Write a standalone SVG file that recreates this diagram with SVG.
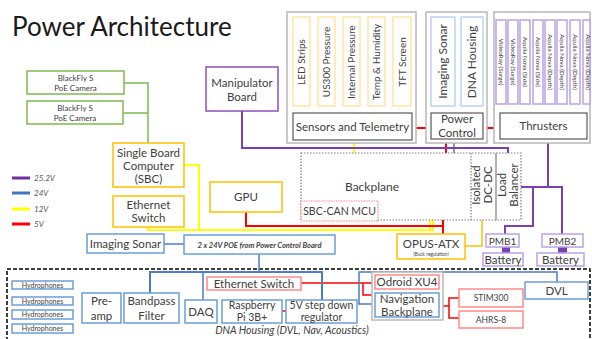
<svg xmlns="http://www.w3.org/2000/svg" width="592" height="339" viewBox="0 0 592 339">
  <style>
    .t { font-family: Lato, "Open Sans", "Liberation Sans", sans-serif; fill: #404040; text-anchor: middle; font-size: 11.5px; }
    .s8 { font-size: 8px; }
    .s7 { font-size: 7px; }
    .s10 { font-size: 10px; }
    .s11 { font-size: 10.5px; }
    .it { font-style: italic; }
    rect { fill: #ffffff; }
    .or { stroke: #ffc000; stroke-width: 1.5; }
    .gn { stroke: #7dbb4c; stroke-width: 1.5; }
    .pu { stroke: #8a52c0; stroke-width: 1.5; }
    .lp { stroke: #b9a3e3; stroke-width: 1.5; }
    .bl { stroke: #6b9fd8; stroke-width: 1.5; }
    .lb { stroke: #a9cbed; stroke-width: 1.2; }
    .lr { stroke: #ff8a8a; stroke-width: 1.5; }
    .dk { stroke: #595959; stroke-width: 1.2; }
    .lg { stroke: #b8b8b8; stroke-width: 1.5; }
    .ly { stroke: #ffe08a; stroke-width: 1.2; }
    .conn polyline, .conn line { fill: none; }
    .c12 { stroke: #ffff00; stroke-width: 2; }
    .c5 { stroke: #ff0000; stroke-width: 2; }
    .c24 { stroke: #4a7cc9; stroke-width: 1.5; }
    .c25 { stroke: #7a3fb0; stroke-width: 2; }
    .cg { stroke: #7dbb4c; stroke-width: 1.5; }
    .co { stroke: #ffc000; stroke-width: 1.5; }
  </style>

  <!-- title -->
  <text x="12" y="36" font-family="Lato, 'Open Sans', sans-serif" font-size="26" fill="#1a1a1a">Power Architecture</text>

  <!-- legend -->
  <g id="legend">
    <line x1="12" y1="178" x2="30" y2="178" stroke="#7030a0" stroke-width="3"/>
    <line x1="12" y1="193" x2="30" y2="193" stroke="#4472c4" stroke-width="3"/>
    <line x1="12" y1="209" x2="30" y2="209" stroke="#ffff00" stroke-width="3"/>
    <line x1="12" y1="224" x2="30" y2="224" stroke="#ff0000" stroke-width="3"/>
    <text class="t s8 it" x="34" y="181" style="text-anchor:start;fill:#595959">25.2V</text>
    <text class="t s8 it" x="34" y="196" style="text-anchor:start;fill:#595959">24V</text>
    <text class="t s8 it" x="34" y="212" style="text-anchor:start;fill:#595959">12V</text>
    <text class="t s8 it" x="34" y="227" style="text-anchor:start;fill:#595959">5V</text>
  </g>

  <!-- DNA housing enclosure -->
  <g id="dna-housing">
    <rect x="7" y="269" width="583" height="80" style="fill:none" stroke="#000" stroke-width="1.5" stroke-dasharray="4,2"/>
    <text class="t it" x="292" y="334" style="font-size:10.5px">DNA Housing (DVL, Nav, Acoustics)</text>
  </g>

  <!-- connectors -->
  <g id="connectors" class="conn">
    <!-- cameras to SBC -->
    <polyline class="cg" points="124,83 148,83 148,143"/>
    <line class="cg" x1="123" y1="113" x2="148" y2="113"/>
    <!-- 12V -->
    <polyline class="c12" points="184,165 199,165 199,230"/>
    <polyline class="c12" points="148,227 148,230 433,230 433,220"/>
    <line class="c12" x1="430" y1="220" x2="430" y2="230"/>
    <line class="c12" x1="302" y1="106" x2="302" y2="113"/>
    <line class="c12" x1="327" y1="106" x2="327" y2="113"/>
    <line class="c12" x1="354" y1="143" x2="354" y2="153"/>
    <!-- 5V -->
    <polyline class="c5" points="246,212 246,226 443,226"/>
    <line class="c5" x1="443" y1="220" x2="443" y2="234"/>
    <line class="c5" x1="352" y1="106" x2="352" y2="113"/>
    <line class="c5" x1="377" y1="106" x2="377" y2="113"/>
    <line class="c5" x1="403" y1="106" x2="403" y2="113"/>
    <line class="c5" x1="416" y1="128" x2="426" y2="128"/>
    <line class="c5" x1="487" y1="128" x2="494" y2="128"/>
    <line class="c5" x1="446" y1="143" x2="446" y2="153"/>
    <line class="c5" x1="301" y1="283" x2="375" y2="283" style="stroke-width:1.5"/>
    <polyline class="c5" points="363,283 363,295 375,295" style="stroke-width:1.5"/>
    <line class="c5" x1="282" y1="311" x2="286" y2="311" style="stroke-width:1.5"/>
    <line class="c5" x1="439" y1="306" x2="449" y2="306" style="stroke-width:1.5"/>
    <polyline class="c5" points="459,298 449,298 449,318 459,318" style="stroke-width:1.5"/>
    <!-- OPUS output -->
    <polyline class="co" points="465,246 482,246 482,220"/>
    <!-- 24V -->
    <line class="c24" x1="454" y1="143" x2="454" y2="153"/>
    <line class="c24" x1="164" y1="244" x2="184" y2="244"/>
    <line class="c24" x1="259" y1="254" x2="259" y2="272"/>
    <polyline class="c24" points="150,293 150,272 322,272 322,300" style="stroke-width:2"/>
    <line class="c24" x1="203" y1="272" x2="203" y2="300"/>
    <polyline class="c24" points="372,304 359,304 359,272 557,272 557,282"/>
    <!-- 25.2V -->
    <polyline class="c25" points="242,111 242,148 508,148 508,153"/>
    <line class="c25" x1="548" y1="143" x2="548" y2="187"/>
    <polyline class="c25" points="521,187 562,187 562,234"/>
    <polyline class="c25" points="533,187 533,226 505,226 505,234"/>
    <rect x="502" y="247" width="8" height="6" style="fill:#7a3fb0"/>
    <rect x="558" y="247" width="9" height="6" style="fill:#7a3fb0"/>
  </g>

  <!-- cameras -->
  <g id="camera1">
    <rect class="gn" x="27" y="71" width="97" height="23"/>
    <text class="t s8" x="75.5" y="80.5">BlackFly S</text>
    <text class="t s8" x="75.5" y="90.5">PoE Camera</text>
  </g>
  <g id="camera2">
    <rect class="gn" x="27" y="101" width="96" height="23"/>
    <text class="t s8" x="75" y="110.5">BlackFly S</text>
    <text class="t s8" x="75" y="120.5">PoE Camera</text>
  </g>

  <!-- computing -->
  <g id="sbc">
    <rect class="or" x="113" y="143" width="71" height="44"/>
    <text class="t" x="148.5" y="157">Single Board</text>
    <text class="t" x="148.5" y="170">Computer</text>
    <text class="t" x="148.5" y="183">(SBC)</text>
  </g>
  <g id="ethernet-switch-top">
    <rect class="or" x="113" y="196" width="71" height="31"/>
    <text class="t" x="148.5" y="209">Ethernet</text>
    <text class="t" x="148.5" y="222">Switch</text>
  </g>
  <g id="gpu">
    <rect class="or" x="210" y="182" width="72" height="30"/>
    <text class="t" x="246" y="201">GPU</text>
  </g>
  <g id="manipulator">
    <rect class="pu" x="206" y="67" width="72" height="44"/>
    <text class="t" x="242" y="87">Manipulator</text>
    <text class="t" x="242" y="101">Board</text>
  </g>

  <!-- sensors and telemetry -->
  <g id="sensors">
    <rect class="lg" x="287" y="12" width="129" height="131"/>
    <rect class="ly" x="293" y="17" width="17" height="89"/>
    <rect class="ly" x="318" y="17" width="17" height="89"/>
    <rect class="ly" x="343" y="17" width="17" height="89"/>
    <rect class="ly" x="368" y="17" width="17" height="89"/>
    <rect class="ly" x="393" y="17" width="18" height="89"/>
    <text class="t s10" transform="translate(305,62) rotate(-90)">LED Strips</text>
    <text class="t s10" transform="translate(330,62) rotate(-90)">US300 Pressure</text>
    <text class="t s10" transform="translate(355,62) rotate(-90)">Internal Pressure</text>
    <text class="t s10" transform="translate(380,62) rotate(-90)">Temp &amp; Humidity</text>
    <text class="t s10" transform="translate(405.5,62) rotate(-90)">TFT Screen</text>
    <rect class="dk" x="293" y="113" width="119" height="27"/>
    <text class="t" x="352.5" y="131">Sensors and Telemetry</text>
  </g>

  <!-- power control -->
  <g id="power-control">
    <rect class="lg" x="426" y="12" width="61" height="131"/>
    <rect class="lb" x="431" y="17" width="24" height="89"/>
    <rect class="lb" x="461" y="17" width="22" height="89"/>
    <text class="t" transform="translate(447,61.5) rotate(-90)" style="font-size:12px">Imaging Sonar</text>
    <text class="t" transform="translate(476,62) rotate(-90)" style="font-size:12px">DNA Housing</text>
    <rect class="dk" x="431" y="113" width="52" height="26"/>
    <text class="t" x="457" y="123">Power</text>
    <text class="t" x="457" y="136.5">Control</text>
  </g>

  <!-- thrusters -->
  <g id="thrusters">
    <rect class="lg" x="494" y="12" width="96" height="131"/>
    <rect class="lp" x="496" y="20" width="10" height="84"/>
    <rect class="lp" x="508" y="20" width="10" height="84"/>
    <rect class="lp" x="520" y="20" width="10" height="84"/>
    <rect class="lp" x="533" y="20" width="10" height="84"/>
    <rect class="lp" x="545" y="20" width="10" height="84"/>
    <rect class="lp" x="557" y="20" width="10" height="84"/>
    <rect class="lp" x="570" y="20" width="10" height="84"/>
    <rect class="lp" x="583" y="20" width="7" height="84"/>
    <text class="t" transform="translate(498.8,62) rotate(90)" style="font-size:6.3px">VideoRay (Surge)</text>
    <text class="t" transform="translate(510.8,62) rotate(90)" style="font-size:6.3px">VideoRay (Surge)</text>
    <text class="t" transform="translate(522.8,62) rotate(90)" style="font-size:6.3px">Aquila Nova (Side)</text>
    <text class="t" transform="translate(535.8,62) rotate(90)" style="font-size:6.3px">Aquila Nova (Side)</text>
    <text class="t" transform="translate(547.8,62) rotate(90)" style="font-size:6.3px">Aquila Nova (Depth)</text>
    <text class="t" transform="translate(559.8,62) rotate(90)" style="font-size:6.3px">Aquila Nova (Depth)</text>
    <text class="t" transform="translate(572.8,62) rotate(90)" style="font-size:6.3px">Aquila Nova (Depth)</text>
    <text class="t" transform="translate(585.8,62) rotate(90)" style="font-size:6.3px">Aquila Nova (Depth)</text>
    <rect class="dk" x="500" y="113" width="87" height="26"/>
    <text class="t" x="543.5" y="130">Thrusters</text>
  </g>

  <!-- backplane -->
  <g id="backplane">
    <rect x="301" y="153" width="220" height="67" stroke="#7f7f7f" stroke-width="1.2" stroke-dasharray="1.5,1.5"/>
    <line x1="471" y1="153" x2="471" y2="220" stroke="#7f7f7f" stroke-width="1.2" stroke-dasharray="1.5,1.5"/>
    <line x1="496" y1="153" x2="496" y2="220" stroke="#7f7f7f" stroke-width="1.2"/>
    <text class="t" x="372" y="191" style="font-size:12px">Backplane</text>
    <text class="t" transform="translate(480,185) rotate(-90)">Isolated</text>
    <text class="t" transform="translate(492,185) rotate(-90)">DC-DC</text>
    <text class="t" transform="translate(505.5,185) rotate(-90)">Load</text>
    <text class="t" transform="translate(518,185) rotate(-90)">Balancer</text>
  </g>
  <g id="sbc-can-mcu">
    <rect x="301" y="201" width="77" height="20" stroke="#ff8a8a" stroke-width="1.2" stroke-dasharray="1.5,1"/>
    <text class="t" x="339.5" y="215" style="font-size:10.5px">SBC-CAN MCU</text>
  </g>

  <!-- power supplies -->
  <g id="opus-atx">
    <rect class="or" x="397" y="234" width="68" height="25"/>
    <text class="t" x="431" y="248">OPUS-ATX</text>
    <text class="t" x="431" y="256" style="font-size:4.8px">(Buck regulation)</text>
  </g>
  <g id="pmb1">
    <rect class="lp" x="486" y="234" width="33" height="13"/>
    <text class="t s10" x="502.5" y="244.5">PMB1</text>
  </g>
  <g id="battery1">
    <rect class="lp" x="483" y="253" width="40" height="13"/>
    <text class="t" x="503" y="264">Battery</text>
  </g>
  <g id="pmb2">
    <rect class="lp" x="542" y="234" width="41" height="13"/>
    <text class="t s10" x="562.5" y="244.5">PMB2</text>
  </g>
  <g id="battery2">
    <rect class="lp" x="537" y="253" width="47" height="13"/>
    <text class="t" x="560.5" y="264">Battery</text>
  </g>

  <!-- sonar and POE -->
  <g id="imaging-sonar">
    <rect class="bl" x="87" y="234" width="77" height="19"/>
    <text class="t" x="125.5" y="248">Imaging Sonar</text>
  </g>
  <g id="poe">
    <rect class="bl" x="184" y="235" width="151" height="19"/>
    <text class="t it" x="259.5" y="247.5" style="font-size:7.5px;font-weight:bold">2 x 24V POE from Power Control Board</text>
  </g>

  <!-- acoustics chain -->
  <g id="hydrophone1">
    <rect class="bl" x="12" y="281" width="61" height="8"/>
    <text class="t s7" x="42.5" y="287.5">Hydrophones</text>
  </g>
  <g id="hydrophone2">
    <rect class="bl" x="12" y="297" width="61" height="8"/>
    <text class="t s7" x="42.5" y="303.5">Hydrophones</text>
  </g>
  <g id="hydrophone3">
    <rect class="bl" x="12" y="310" width="61" height="9"/>
    <text class="t s7" x="42.5" y="317">Hydrophones</text>
  </g>
  <g id="hydrophone4">
    <rect class="bl" x="12" y="324" width="61" height="9"/>
    <text class="t s7" x="42.5" y="331">Hydrophones</text>
  </g>
  <g id="preamp">
    <rect class="bl" x="82" y="293" width="39" height="30"/>
    <text class="t" x="101.5" y="305">Pre-</text>
    <text class="t" x="101.5" y="320">amp</text>
  </g>
  <g id="bandpass">
    <rect class="bl" x="124" y="293" width="55" height="30"/>
    <text class="t" x="151.5" y="305">Bandpass</text>
    <text class="t" x="151.5" y="320">Filter</text>
  </g>
  <g id="daq">
    <rect class="bl" x="185" y="300" width="32" height="23"/>
    <text class="t" x="201" y="316">DAQ</text>
  </g>
  <g id="raspberry-pi">
    <rect class="bl" x="222" y="300" width="60" height="23"/>
    <text class="t s11" x="252" y="309">Raspberry</text>
    <text class="t s11" x="252" y="320.5">Pi 3B+</text>
  </g>
  <g id="regulator">
    <rect class="bl" x="286" y="300" width="71" height="23"/>
    <text class="t s11" x="321.5" y="309">5V step down</text>
    <text class="t s11" x="321.5" y="320.5">regulator</text>
  </g>
  <g id="ethernet-switch-bottom">
    <rect class="lr" x="207" y="277" width="94" height="13"/>
    <text class="t" x="254" y="287.5">Ethernet Switch</text>
  </g>

  <!-- navigation -->
  <g id="navigation">
    <rect x="372" y="272" width="71" height="48" stroke="#b8b8b8" stroke-width="1.5"/>
    <rect class="lr" x="375" y="275" width="64" height="14"/>
    <text class="t" x="407" y="286">Odroid XU4</text>
    <rect class="bl" x="375" y="293" width="64" height="24"/>
    <text class="t" x="407" y="303">Navigation</text>
    <text class="t" x="407" y="315.5">Backplane</text>
  </g>
  <g id="stim300">
    <rect class="lr" x="459" y="289" width="64" height="18"/>
    <text class="t" x="491" y="301" style="font-size:8.5px">STIM300</text>
  </g>
  <g id="ahrs8">
    <rect class="lr" x="459" y="311" width="64" height="17"/>
    <text class="t" x="491" y="322.5" style="font-size:8.5px">AHRS-8</text>
  </g>
  <g id="dvl">
    <rect class="bl" x="525" y="282" width="63" height="17"/>
    <text class="t" x="556.5" y="294.5">DVL</text>
  </g>
</svg>
